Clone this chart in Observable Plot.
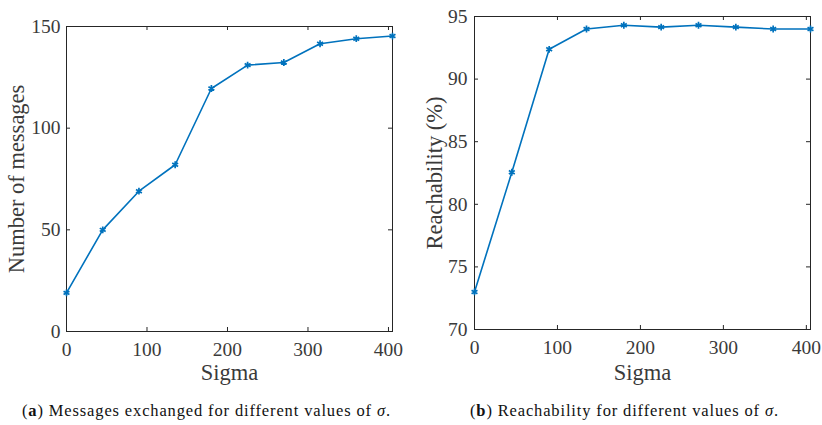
<!DOCTYPE html>
<html>
<head>
<meta charset="utf-8">
<script src="https://cdn.jsdelivr.net/npm/d3@7"></script>
<script src="https://cdn.jsdelivr.net/npm/@observablehq/plot@0.6"></script>
<style>
  html, body { margin: 0; padding: 0; background: #fff; }
  #wrap { position: relative; width: 822px; height: 425px; overflow: hidden; }
  .panel { position: absolute; top: 0; }
  .cap {
    position: absolute; top: 401px; font-family: "Liberation Serif", serif;
    font-size: 16.5px; color: #111; white-space: nowrap;
  }
  .cap b { font-weight: bold; }
  .cap i { font-style: italic; }
</style>
</head>
<body>
<div id="wrap">
  <div class="panel" id="pa" style="left:0px"></div>
  <div class="panel" id="pb" style="left:411px"></div>
  <div class="cap" id="ca" style="left:22px">(<b>a</b>) Messages exchanged for different values of <i>σ</i>.</div>
  <div class="cap" id="cb" style="left:470px">(<b>b</b>) Reachability for different values of <i>σ</i>.</div>
</div>
<script>
// Sigma values shared by both panels
const sigma = [0, 45, 90, 135, 180, 225, 270, 315, 360, 405];
// (a) number of messages exchanged
const messages = [19, 50, 69, 82, 119.5, 131, 132.3, 141.5, 144, 145.3];
// (b) reachability in percent
const reachability = [73.0, 82.56, 92.38, 94.0, 94.3, 94.15, 94.3, 94.15, 94.0, 94.0];

const xTicks = [0, 100, 200, 300, 400];
const yTicksA = [0, 50, 100, 150];
const yTicksB = [70, 75, 80, 85, 90, 95];

const lineColor = "#0072BD";
const axisColor = "#262626";
const textColor = "#3a3a3a";
const serif = "Liberation Serif, serif";

function panel({values, yDomain, yTicks, yLabel, width, height, margins, yPad, xPad, xLabelDy, yLabelDx}) {
  const data = sigma.map((s, i) => ({s, v: values[i]}));
  const innerW = width - margins.left - margins.right;
  const innerH = height - margins.top - margins.bottom;
  const tick = 4;
  return Plot.plot({
    width, height,
    marginLeft: margins.left, marginRight: margins.right,
    marginTop: margins.top, marginBottom: margins.bottom,
    style: {fontFamily: serif, background: "#fff", overflow: "visible"},
    x: {domain: [0, 405]},
    y: {domain: yDomain},
    marks: [
      // tick labels only; the tick lines are drawn inward below
      Plot.axisX(xTicks, {tickSize: 0, tickPadding: xPad, fontSize: 19.5, fontFamily: serif, fill: textColor, label: null}),
      Plot.axisY(yTicks, {tickSize: 0, tickPadding: yPad, fontSize: 19.5, fontFamily: serif, fill: textColor, label: null}),
      // inward ticks on all four sides
      Plot.tickX(xTicks, {x: d => d, insetTop: innerH - tick, stroke: axisColor, strokeWidth: 1}),
      Plot.tickX(xTicks, {x: d => d, insetBottom: innerH - tick, stroke: axisColor, strokeWidth: 1}),
      Plot.tickY(yTicks, {y: d => d, insetRight: innerW - tick, stroke: axisColor, strokeWidth: 1}),
      Plot.tickY(yTicks, {y: d => d, insetLeft: innerW - tick, stroke: axisColor, strokeWidth: 1}),
      Plot.frame({stroke: axisColor, strokeWidth: 1}),
      Plot.line(data, {x: "s", y: "v", stroke: lineColor, strokeWidth: 1.6}),
      Plot.dot(data, {x: "s", y: "v", symbol: "asterisk", r: 3.2, stroke: lineColor, strokeWidth: 1.7}),
      Plot.text(["Sigma"], {frameAnchor: "bottom", textAnchor: "middle", dy: xLabelDy, fontSize: 22.5, fontFamily: serif, fill: textColor}),
      Plot.text([yLabel], {frameAnchor: "left", textAnchor: "middle", dx: yLabelDx, rotate: -90, fontSize: 22.5, fontFamily: serif, fill: textColor})
    ]
  });
}

document.getElementById("pa").append(panel({
  values: messages, yDomain: [0, 150], yTicks: yTicksA, yLabel: "Number of messages",
  width: 411, height: 385, margins: {left: 66, right: 19, top: 26, bottom: 54},
  yPad: 6, xPad: 11, xLabelDy: 48, yLabelDx: -50
}));

document.getElementById("pb").append(panel({
  values: reachability, yDomain: [70, 95], yTicks: yTicksB, yLabel: "Reachability (%)",
  width: 411, height: 385, margins: {left: 63, right: 12, top: 16, bottom: 56},
  yPad: 7, xPad: 11, xLabelDy: 50, yLabelDx: -40
}));

// stretch each caption to the width it spans under its panel
[["ca", 368], ["cb", 308]].forEach(([id, target]) => {
  const el = document.getElementById(id);
  const n = el.textContent.length;
  const w = el.getBoundingClientRect().width;
  el.style.letterSpacing = ((target - w) / (n - 1)) + "px";
});
</script>
</body>
</html>
